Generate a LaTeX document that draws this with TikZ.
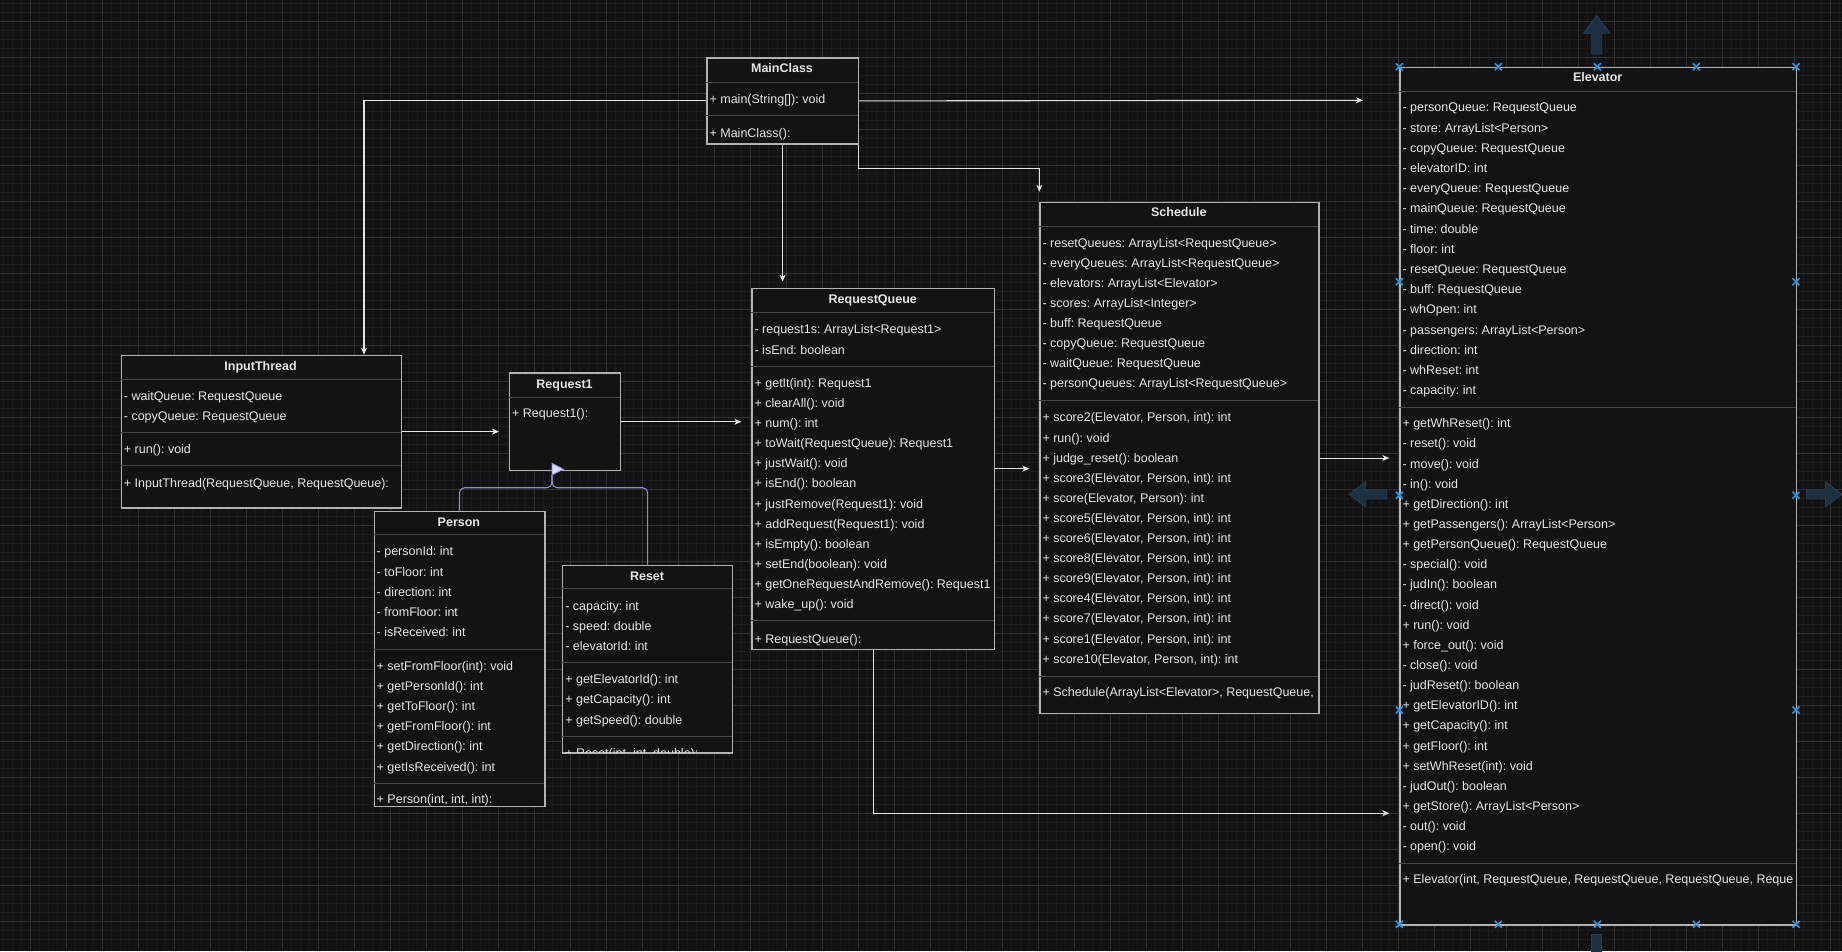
\documentclass[tikz,border=0pt]{standalone}
\usepackage{fontspec}
\setmainfont{Liberation Sans}
\usepackage{xcolor}
\usepackage{tikz}
\usetikzlibrary{arrows.meta,positioning}
\definecolor{cBg}{RGB}{18,18,18}
\definecolor{cGridMin}{RGB}{27,27,27}
\definecolor{cGridMaj}{RGB}{48,48,48}
\definecolor{cBox}{RGB}{19,19,19}
\definecolor{cBorder}{RGB}{178,178,178}
\definecolor{cDiv}{RGB}{70,70,70}
\definecolor{cTxt}{RGB}{230,230,230}
\definecolor{cLink}{RGB}{228,228,228}
\definecolor{cInh}{RGB}{140,140,215}
\definecolor{cInhFill}{RGB}{218,218,255}
\definecolor{cSel}{RGB}{45,150,225}
\definecolor{cHint}{RGB}{29,48,65}
\definecolor{cHintEdge}{RGB}{40,62,82}
\newcommand{\clsfont}{\fontsize{12.5}{15}\selectfont\frenchspacing}

\begin{document}
\begin{tikzpicture}[x=1pt,y=-1pt,
  cls/.style={draw=cBorder,fill=cBox,line width=1.2pt,anchor=north west,inner sep=0pt},
  ttl/.style={text=cTxt,inner sep=0pt,text height=9pt,text depth=0pt,font=\clsfont\bfseries},
  row/.style={text=cTxt,anchor=west,inner sep=0pt,text height=9pt,text depth=0pt,font=\clsfont},
  div/.style={draw=cDiv,line width=1pt},
  link/.style={draw=cLink,line width=1.1pt,-{Stealth[length=7pt,width=6pt,inset=2pt]}},
  inh/.style={draw=cInh,line width=1.1pt,rounded corners=5pt},
  sel/.style={draw=cSel,line width=1.6pt},
  hint/.style={fill=cHint,draw=cHintEdge,line width=0.8pt}]
  \useasboundingbox (0,0) rectangle (1842,951);
  \fill[cBg] (0,0) rectangle (1842,951);
  \foreach \i in {0,...,205} \draw[cGridMin,line width=0.6pt] ({-5.33+9*\i},0) -- ++(0,951);
  \foreach \j in {0,...,106} \draw[cGridMin,line width=0.6pt] (0,{-14.67+9*\j}) -- ++(1842,0);
  \foreach \i in {0,...,51} \draw[cGridMaj,line width=0.8pt] ({-5.33+36*\i},0) -- ++(0,951);
  \foreach \j in {0,...,26} \draw[cGridMaj,line width=0.8pt] (0,{-14.67+36*\j}) -- ++(1842,0);

  \node[cls,minimum width=151.2pt,minimum height=86pt] (mainclass) at (706.4,57.3) {};
  \node[ttl] (mainclass-t) at (782,68.3) {MainClass};
  \draw[div] (706.4,82.3) -- (857.6,82.3) (706.4,115.3) -- (857.6,115.3);
  \node[row] (mc-m0) at (709.4,99) {+ main(String[]): void};
  \node[row] (mc-c0) at (709.4,132.5) {+ MainClass():};

  \node[cls,minimum width=279.8pt,minimum height=152.6pt] (inputthread) at (120.7,354.7) {};
  \node[ttl] (inputthread-t) at (260.6,365.7) {InputThread};
  \draw[div] (120.7,379.3) -- (400.5,379.3) (120.7,432.3) -- (400.5,432.3) (120.7,465.7) -- (400.5,465.7);
  \node[row] (it-a0) at (123.7,395.7) {- waitQueue: RequestQueue};
  \node[row] (it-a1) at (123.7,416.3) {- copyQueue: RequestQueue};
  \node[row] (it-m0) at (123.7,449.3) {+ run(): void};
  \node[row] (it-c0) at (123.7,482.7) {+ InputThread(RequestQueue, RequestQueue):};

  \node[cls,minimum width=111.1pt,minimum height=97.7pt] (request1) at (509,372.3) {};
  \node[ttl] (request1-t) at (564.55,383.7) {Request1};
  \draw[div] (509,397.3) -- (620.1,397.3);
  \node[row] (r1-c0) at (512,413.3) {+ Request1():};

  \node[cls,minimum width=170.8pt,minimum height=295.3pt] (person) at (373.5,510.7) {};
  \node[ttl] (person-t) at (458.9,521.7) {Person};
  \draw[div] (373.5,534.3) -- (544.3,534.3) (373.5,649) -- (544.3,649) (373.5,783.3) -- (544.3,783.3);
  \foreach \lbl [count=\i from 0] in {- personId: int, - toFloor: int, - direction: int, - fromFloor: int, - isReceived: int}
    \node[row] (ps-a\i) at (376.5,{551.3+20.2*\i}) {\lbl};
  \foreach \lbl [count=\i from 0] in {+ setFromFloor(int): void, + getPersonId(): int, + getToFloor(): int, + getFromFloor(): int, + getDirection(): int, + getIsReceived(): int}
    \node[row] (ps-m\i) at (376.5,{665.5+20.2*\i}) {\lbl};
  \begin{scope}
    \clip (373.5,783.3) rectangle (544.3,806);
    \node[row] (ps-c0) at (376.5,799.3) {+ Person(int, int, int):};
  \end{scope}

  \node[cls,minimum width=169.9pt,minimum height=187.6pt] (reset) at (562.1,564.7) {};
  \node[ttl] (reset-t) at (647.05,575.7) {Reset};
  \draw[div] (562.1,588.3) -- (732,588.3) (562.1,662.3) -- (732,662.3) (562.1,736.7) -- (732,736.7);
  \foreach \lbl [count=\i from 0] in {- capacity: int, - speed: double, - elevatorId: int}
    \node[row] (rs-a\i) at (565.1,{605.7+20*\i}) {\lbl};
  \foreach \lbl [count=\i from 0] in {+ getElevatorId(): int, + getCapacity(): int, + getSpeed(): double}
    \node[row] (rs-m\i) at (565.1,{678.9+20.4*\i}) {\lbl};
  \begin{scope}
    \clip (562.1,736.7) rectangle (732,752.3);
    \node[row] (rs-c0) at (565.1,752.5) {+ Reset(int, int, double):};
  \end{scope}

  \node[cls,minimum width=242.7pt,minimum height=360.9pt] (requestqueue) at (751.4,287.6) {};
  \node[ttl] (requestqueue-t) at (872.75,298.6) {RequestQueue};
  \draw[div] (751.4,312.7) -- (994.1,312.7) (751.4,366.1) -- (994.1,366.1) (751.4,620.9) -- (994.1,620.9);
  \node[row] (rq-a0) at (754.4,329.2) {- request1s: ArrayList<Request1>};
  \node[row] (rq-a1) at (754.4,349.6) {- isEnd: boolean};
  \foreach \lbl [count=\i from 0] in {+ getIt(int): Request1, + clearAll(): void, + num(): int, + toWait(RequestQueue): Request1, + justWait(): void, + isEnd(): boolean, + justRemove(Request1): void, + addRequest(Request1): void, + isEmpty(): boolean, + setEnd(boolean): void, + getOneRequestAndRemove(): Request1, + wake\_up(): void}
    \node[row] (rq-m\i) at (754.4,{382.6+20.16*\i}) {\lbl};
  \node[row] (rq-c0) at (754.4,638.5) {+ RequestQueue():};

  \node[cls,minimum width=279.1pt,minimum height=511.5pt] (schedule) at (1039.3,201.7) {};
  \node[ttl] (schedule-t) at (1178.85,212.3) {Schedule};
  \draw[div] (1039.3,226.7) -- (1318.4,226.7) (1039.3,400.5) -- (1318.4,400.5) (1039.3,676) -- (1318.4,676);
  \foreach \lbl [count=\i from 0] in {- resetQueues: ArrayList<RequestQueue>, - everyQueues: ArrayList<RequestQueue>, - elevators: ArrayList<Elevator>, - scores: ArrayList<Integer>, - buff: RequestQueue, - copyQueue: RequestQueue, - waitQueue: RequestQueue, - personQueues: ArrayList<RequestQueue>}
    \node[row] (sc-a\i) at (1042.3,{242.7+20.1*\i}) {\lbl};
  \foreach \lbl [count=\i from 0] in {{+ score2(Elevator, Person, int): int}, + run(): void, + judge\_reset(): boolean, {+ score3(Elevator, Person, int): int}, {+ score(Elevator, Person): int}, {+ score5(Elevator, Person, int): int}, {+ score6(Elevator, Person, int): int}, {+ score8(Elevator, Person, int): int}, {+ score9(Elevator, Person, int): int}, {+ score4(Elevator, Person, int): int}, {+ score7(Elevator, Person, int): int}, {+ score1(Elevator, Person, int): int}, {+ score10(Elevator, Person, int): int}}
    \node[row] (sc-m\i) at (1042.3,{417.4+20.1*\i}) {\lbl};
  \node[row] (sc-c0) at (1042.3,692.2) {+ Schedule(ArrayList<Elevator>, RequestQueue,};

  \node[cls,minimum width=396.7pt,minimum height=857.6pt] (elevator) at (1399.3,66.7) {};
  \node[ttl] (elevator-t) at (1597.65,77.3) {Elevator};
  \draw[div] (1399.3,91) -- (1796,91) (1399.3,407) -- (1796,407) (1399.3,863.7) -- (1796,863.7);
  \foreach \lbl [count=\i from 0] in {- personQueue: RequestQueue, - store: ArrayList<Person>, - copyQueue: RequestQueue, - elevatorID: int, - everyQueue: RequestQueue, - mainQueue: RequestQueue, - time: double, - floor: int, - resetQueue: RequestQueue, - buff: RequestQueue, - whOpen: int, - passengers: ArrayList<Person>, - direction: int, - whReset: int, - capacity: int}
    \node[row] (el-a\i) at (1402.3,{107.3+20.2*\i}) {\lbl};
  \foreach \lbl [count=\i from 0] in {+ getWhReset(): int, - reset(): void, - move(): void, - in(): void, + getDirection(): int, + getPassengers(): ArrayList<Person>, + getPersonQueue(): RequestQueue, - special(): void, - judIn(): boolean, - direct(): void, + run(): void, + force\_out(): void, - close(): void, - judReset(): boolean, + getElevatorID(): int, + getCapacity(): int, + getFloor(): int, + setWhReset(int): void, - judOut(): boolean, + getStore(): ArrayList<Person>, - out(): void, - open(): void}
    \node[row] (el-m\i) at (1402.3,{423.3+20.14*\i}) {\lbl};
  \node[row] (el-c0) at (1402.3,879.3) {+ Elevator(int, RequestQueue, RequestQueue, RequestQueue, Reque};

  \coordinate (itIn) at (364,354.7);
  \coordinate (mcOut) at (1363,100.3);
  \coordinate (rqIn) at (1399.3,813.2);
  \coordinate (inhJ) at (552,487.7);
  \coordinate (inhTop) at (552,475);
  \draw[link] (mainclass.west) -| (itIn);
  \draw[link] (mainclass.east) -- (mcOut);
  \draw[link,shorten >=6pt] (mainclass.south) -- (mainclass.south |- requestqueue.north);
  \draw[link,shorten >=10pt] (mainclass.south east) -- ++(0,24.4) -| (schedule.north west);
  \draw[link,shorten >=10pt] (inputthread.east) -- (inputthread.east -| request1.west);
  \draw[link,shorten >=10pt] (request1.east) -- (request1.east -| requestqueue.west);
  \draw[link,shorten >=10pt] (requestqueue.east) -- (requestqueue.east -| schedule.west);
  \draw[link,shorten >=10pt] (schedule.east) -- (schedule.east -| elevator.west);
  \draw[link,shorten >=10pt] (requestqueue.south) |- (rqIn);
  \draw[inh] (person.north) |- (inhJ) -- (inhTop);
  \draw[inh] (reset.north) |- (inhJ) -- (inhTop);
  \filldraw[draw=cInh,fill=cInhFill,line width=0.8pt] (552,463.3) -- (563.5,469.2) -- (552,475) -- cycle;

  \fill[hint] (1591.7,54) -- (1591.7,33.3) -- (1583.3,33.3) -- (1596.7,15.7) -- (1610,33.3) -- (1601.7,33.3) -- (1601.7,54) -- cycle;
  \filldraw[hint] (1387,490) -- (1365.7,490) -- (1365.7,481.7) -- (1349,494.3) -- (1365.7,506.7) -- (1365.7,499) -- (1387,499) -- cycle;
  \filldraw[hint] (1806.4,490) -- (1825.4,490) -- (1825.4,481.7) -- (1842.1,494.3) -- (1825.4,506.7) -- (1825.4,499) -- (1806.4,499) -- cycle;
  \filldraw[hint] (1591.7,934) rectangle (1601.7,960);
  \foreach \hx/\hy in {1399.3/66.7,1498.3/66.7,1597.3/66.7,1696.3/66.7,1796/66.7,1399.3/924.3,1498.3/924.3,1597.3/924.3,1696.3/924.3,1796/924.3,1399.3/281.7,1399.3/495.3,1399.3/710,1796/281.7,1796/495.3,1796/710}
    \draw[sel] ({\hx-3.5},{\hy-3.5}) -- ({\hx+3.5},{\hy+3.5}) ({\hx-3.5},{\hy+3.5}) -- ({\hx+3.5},{\hy-3.5});
\end{tikzpicture}
\end{document}
